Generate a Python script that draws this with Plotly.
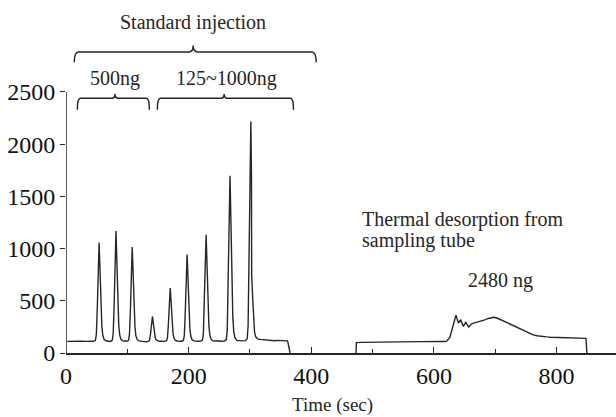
import plotly.graph_objects as go

# ---- data ----
# standard injections (0 - ~366 s)
t_std = [2, 10, 20, 26, 33, 40, 45,
         48, 49.5, 51, 52.5, 54, 55.5, 57, 58.5, 60, 62, 65,
         69, 72.5,
         75.5, 77, 78.5, 80, 81.5, 83, 84.5, 86, 87.5, 89.5, 92.5,
         96, 99,
         102, 103.5, 105, 106.5, 108, 109.5, 111, 112.5, 114, 116, 119,
         123, 127, 131,
         135, 136.5, 138, 139.5, 141, 142.5, 144, 145.5, 147, 149, 152,
         156, 160,
         164, 165.5, 167, 168.5, 170, 171.5, 173, 174.5, 176, 178, 181,
         185, 188.5,
         191.5, 193, 194.5, 196, 197.5, 199, 200.5, 202, 203.5, 205.5, 208.5,
         212, 216, 219.5,
         222.5, 224, 225.5, 227, 228.5, 230, 231.5, 233, 234.5, 236.5, 239.5,
         244, 249, 254, 258.5,
         261.5, 263, 264.5, 266, 267.5, 269, 270.5, 272, 273.5, 275.5, 278.5,
         283, 288, 292.5,
         295.5, 297, 298.5, 300, 301.5, 302.5, 302.8, 304.5, 306, 307.5, 309.5, 312.5,
         317, 322, 328, 334, 340, 346, 351, 356, 361, 362, 365.5]
s_std = [111, 113, 110, 112, 111, 113, 112,
         121, 178, 424, 774, 1058, 793, 490, 254, 169, 131, 117,
         113, 111,
         123, 186, 460, 851, 1168, 872, 534, 270, 175, 133, 117,
         114, 112,
         121, 175, 410, 743, 1014, 761, 473, 247, 166, 130, 116,
         113, 110, 107,
         114, 129, 191, 279, 350, 283, 207, 148, 126, 117, 112,
         113, 111,
         117, 148, 280, 469, 622, 479, 316, 189, 143, 122, 115,
         112, 113,
         120, 170, 387, 694, 944, 711, 445, 237, 162, 129, 116,
         113, 112, 114,
         122, 183, 449, 826, 1132, 846, 520, 265, 173, 132, 117,
         114, 113, 112, 114,
         129, 224, 636, 1223, 1698, 1254, 747, 351, 208, 145, 121,
         117, 116, 118,
         137, 263, 809, 1586, 2216, 1690, 750, 520, 300, 200, 155, 135,
         130, 127, 124, 120, 118, 121, 118, 117, 116, 100, 0]

# thermal desorption from sampling tube (~473 - 850 s)
t_td = [473, 473.5, 482, 490, 500, 510, 520, 530, 540, 550, 560, 570, 580,
        590, 600, 610, 617, 621,
        626, 630, 633, 636, 640, 643.6, 648, 652, 656.7, 661.6, 665, 669.7,
        674, 678, 683, 688.7, 693, 698, 703, 707.7, 713, 718.6, 724, 729.4,
        735, 740.3, 746, 751, 757, 762, 768, 773, 779, 784, 790, 794.5, 800,
        805, 811, 816, 825, 832.6, 840, 848, 849.5]
s_td = [0, 100, 102, 103, 102, 104, 105, 106, 104, 105, 107, 108, 107,
        109, 110, 111, 110, 114,
        150, 240, 320, 362, 287, 319, 255, 293, 249, 280, 286, 293,
        300, 312, 318, 331, 336, 342, 335, 322, 308, 294, 277, 262,
        246, 229, 213, 199, 184, 174, 165, 160, 156, 154, 151, 150, 148,
        146, 145, 143, 142, 140, 141, 140, 0]

y_ticks = [0, 500, 1000, 1500, 2000, 2500]
x_ticks = [0, 200, 400, 600, 800]

t_all = t_std + [None] + t_td
s_all = s_std + [None] + s_td

FONT = "Liberation Serif, Times New Roman, serif"
INK = "#262626"

fig = go.Figure()
fig.add_trace(go.Scatter(x=t_all, y=s_all, mode="lines",
                         line=dict(color=INK, width=1.4),
                         connectgaps=False, hoverinfo="skip"))


def brace(x0, x1, xm, ye, yl, yt, r):
    return (f"M {x0},{ye} Q {x0},{yl} {x0 + r},{yl} "
            f"L {xm - r},{yl} Q {xm},{yl} {xm},{yt} "
            f"Q {xm},{yl} {xm + r},{yl} "
            f"L {x1 - r},{yl} Q {x1},{yl} {x1},{ye}")


shapes = [
    # y axis line (only up to 2500)
    dict(type="line", xref="x", yref="y", x0=0, x1=0, y0=0, y1=2500,
         line=dict(color=INK, width=1.5)),
    # braces
    dict(type="path", xref="x", yref="y",
         path=brace(13.5, 408, 207.5, 2785, 2883, 2945, 7),
         line=dict(color=INK, width=1.5)),
    dict(type="path", xref="x", yref="y",
         path=brace(18.5, 136, 80, 2330, 2440, 2480, 5),
         line=dict(color=INK, width=1.5)),
    dict(type="path", xref="x", yref="y",
         path=brace(149, 371, 258, 2330, 2440, 2480, 5),
         line=dict(color=INK, width=1.5)),
]

ann_font = dict(family=FONT, size=20, color=INK)
annotations = [
    dict(x=207.5, y=3170, xref="x", yref="y", text="Standard injection",
         showarrow=False, font=ann_font),
    dict(x=80, y=2625, xref="x", yref="y", text="500ng",
         showarrow=False, font=ann_font),
    dict(x=262, y=2625, xref="x", yref="y", text="125~1000ng",
         showarrow=False, font=ann_font),
    dict(x=480, y=1275, xref="x", yref="y", text="Thermal desorption from",
         showarrow=False, font=ann_font, xanchor="left"),
    dict(x=480, y=1078, xref="x", yref="y", text="sampling tube",
         showarrow=False, font=ann_font, xanchor="left"),
    dict(x=709, y=695, xref="x", yref="y", text="2480 ng",
         showarrow=False, font=ann_font),
    dict(x=434, y=-0.146, xref="x", yref="paper", text="Time (sec)",
         xanchor="center", yanchor="middle",
         showarrow=False, font=dict(family=FONT, size=19, color=INK)),
]

fig.update_layout(
    width=616, height=417,
    margin=dict(l=66, r=0, t=0, b=64),
    paper_bgcolor="white", plot_bgcolor="white",
    showlegend=False,
    shapes=shapes,
    annotations=annotations,
    font=dict(family=FONT, color=INK),
)
fig.update_xaxes(range=[0, 897], tickvals=x_ticks, ticks="inside", ticklen=6,
                 tickwidth=1.3, tickcolor=INK, automargin=False,
                 minor=dict(dtick=100, ticks="inside", ticklen=4, tickwidth=1.2, tickcolor=INK),
                 showline=True, linecolor=INK, linewidth=1.5,
                 showgrid=False, zeroline=False,
                 tickfont=dict(family=FONT, size=24, color="#111"))
fig.update_yaxes(range=[0, 3381], tickvals=y_ticks, ticks="outside", ticklen=5,
                 tickwidth=1.3, tickcolor=INK, automargin=False,
                 showline=False, showgrid=False, zeroline=False,
                 tickfont=dict(family=FONT, size=24, color="#111"))

fig.write_html("out.html",
               config={"displayModeBar": False},
               post_script="document.body.style.margin='0';"
                           "document.documentElement.style.overflow='hidden';")
